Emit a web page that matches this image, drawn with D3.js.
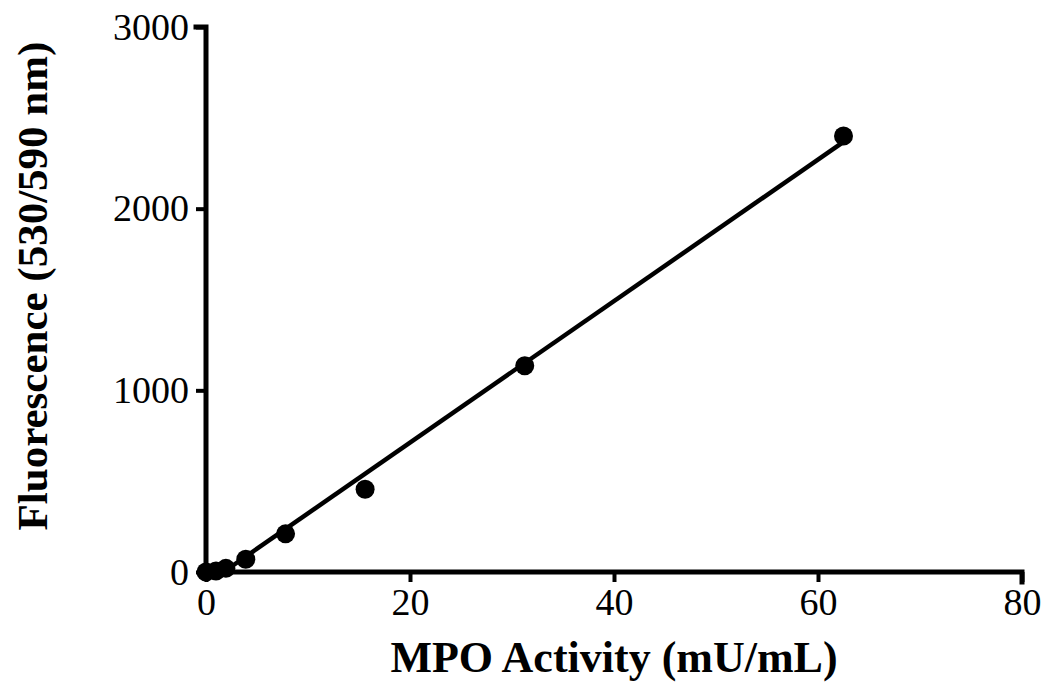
<!DOCTYPE html>
<html>
<head>
<meta charset="utf-8">
<script src="https://cdn.jsdelivr.net/npm/d3@7"></script>
<style>
  body { margin: 0; background: #fff; }
  svg { display: block; }
</style>
</head>
<body>
<div id="chart"></div>
<script>
// MPO standard curve
const activity = [0, 0.98, 1.95, 3.9, 7.8, 15.6, 31.25, 62.5];
const fluorescence = [0, 5, 20, 70, 210, 455, 1135, 2400];
const xTicks = [0, 20, 40, 60, 80];
const yTicks = [0, 1000, 2000, 3000];

const width = 1052, height = 691;
const margin = { left: 206, right: 30, top: 27, bottom: 119 };
const serif = "'Liberation Serif', 'Times New Roman', serif";

const svg = d3.select("#chart").append("svg")
  .attr("width", width)
  .attr("height", height);

const x = d3.scaleLinear().domain([0, 80]).range([margin.left, width - margin.right]);
const y = d3.scaleLinear().domain([0, 3000]).range([height - margin.bottom, margin.top]);

// least squares fit drawn across the measured range
const mx = d3.mean(activity), my = d3.mean(fluorescence);
const slope = d3.sum(activity, (v, i) => (v - mx) * (fluorescence[i] - my)) / d3.sum(activity, v => (v - mx) ** 2);
const intercept = my - slope * mx;
const x0 = Math.max(d3.min(activity), -intercept / slope);
const x1 = d3.max(activity);

svg.append("line")
  .attr("x1", x(x0)).attr("y1", y(slope * x0 + intercept))
  .attr("x2", x(x1)).attr("y2", y(slope * x1 + intercept))
  .attr("stroke", "#000")
  .attr("stroke-width", 4.5);

const xAxis = svg.append("g")
  .attr("transform", `translate(0,${y(0)})`)
  .call(d3.axisBottom(x).tickValues(xTicks).tickFormat(d3.format("d")).tickSize(10).tickPadding(6));

const yAxis = svg.append("g")
  .attr("transform", `translate(${x(0)},0)`)
  .call(d3.axisLeft(y).tickValues(yTicks).tickFormat(d3.format("d")).tickSize(10).tickPadding(7));

[xAxis, yAxis].forEach(g => {
  g.select(".domain").attr("stroke-width", 5).attr("stroke-linecap", "square");
  g.selectAll(".tick line").attr("stroke-width", 4);
  g.selectAll(".tick text")
    .attr("font-family", serif)
    .attr("font-size", 38)
    .attr("fill", "#000");
});
xAxis.select(".domain").attr("d", `M${x(0)},0H${x(80)}V10`);
yAxis.select(".domain").attr("d", `M-10,${y(3000)}H0V${y(0)}`);

svg.append("g")
  .selectAll("circle")
  .data(activity)
  .join("circle")
  .attr("cx", d => x(d))
  .attr("cy", (d, i) => y(fluorescence[i]))
  .attr("r", 9.5)
  .attr("fill", "#000");

svg.append("text")
  .attr("x", 614)
  .attr("y", 672)
  .attr("text-anchor", "middle")
  .attr("font-family", serif)
  .attr("font-weight", "bold")
  .attr("font-size", 44)
  .text("MPO Activity (mU/mL)");

svg.append("text")
  .attr("transform", "translate(47,286) rotate(-90)")
  .attr("text-anchor", "middle")
  .attr("font-family", serif)
  .attr("font-weight", "bold")
  .attr("font-size", 43)
  .text("Fluorescence (530/590 nm)");
</script>
</body>
</html>
